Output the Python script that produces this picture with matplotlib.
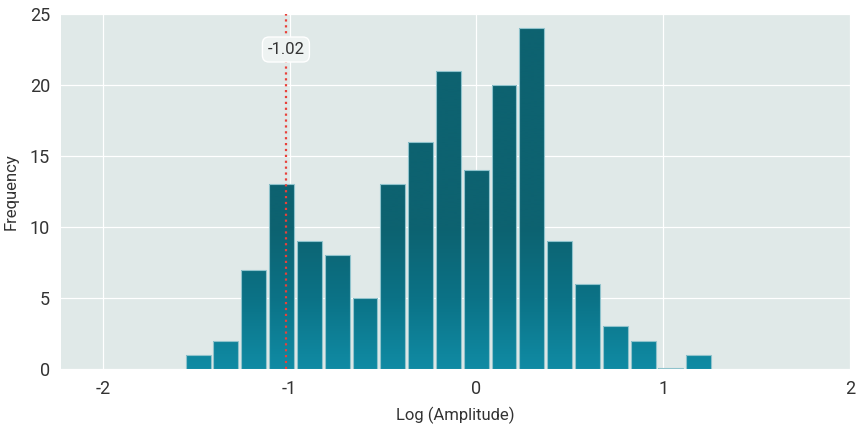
import numpy as np
import matplotlib
matplotlib.use("Agg")
import matplotlib.pyplot as plt
from matplotlib.colors import LinearSegmentedColormap
from matplotlib import font_manager

# Histogram of log amplitudes
bin_start = -1.5645
bin_width = 0.1489
counts = [1, 2, 7, 13, 9, 8, 5, 13, 16, 21, 14, 20, 24, 9, 6, 3, 2, 0.1, 1]
marker_value = -1.02
x_ticks = [-2, -1, 0, 1, 2]
y_ticks = [0, 5, 10, 15, 20, 25]

names = {f.name for f in font_manager.fontManager.ttflist}
family = [f for f in ["Liberation Sans Narrow", "Roboto", "DejaVu Sans"] if f in names]
plt.rcParams["font.family"] = family

fig = plt.figure(figsize=(8.58, 4.26), dpi=100)
ax = fig.add_axes([0.0711, 0.1338, 0.9196, 0.8333])
ax.set_facecolor("#e0e9e8")
for s in ax.spines.values():
    s.set_visible(False)
ax.set_axisbelow(True)
ax.grid(True, color="white", linewidth=0.9)

edges = bin_start + bin_width * np.arange(len(counts) + 1)
centers = (edges[:-1] + edges[1:]) / 2
bars = ax.bar(centers, counts, width=bin_width * 0.895,
              edgecolor="#8fc3cc", linewidth=0.8, facecolor="none", zorder=3)

# vertical gradient shared by all bars: light at the base, dark from ~10 up
cmap = LinearSegmentedColormap.from_list("teal", ["#108ba4", "#0b7286", "#0d6270"])
grad = np.clip(np.linspace(0, 25, 500) / 10.0, 0, 1).reshape(-1, 1)
for b in bars:
    im = ax.imshow(grad, cmap=cmap, vmin=0, vmax=1, origin="lower",
                   extent=[-2.224, 2.0, 0, 25], aspect="auto", zorder=2.5,
                   interpolation="bilinear")
    im.set_clip_path(b)
ax.set_xlim(-2.224, 2.0)
ax.set_ylim(0, 25)

ax.axvline(marker_value, color="#e8413a", linestyle=":",
           linewidth=1.6, zorder=4)
ax.text(marker_value, 22.5, f"{marker_value:.2f}", ha="center", va="center",
        fontsize=12, color="#333333", zorder=5,
        bbox=dict(boxstyle="round,pad=0.3,rounding_size=0.4",
                  facecolor="#eef3f2", edgecolor="#ffffff", linewidth=1))

ax.set_xticks(x_ticks)
ax.set_xticklabels([str(t) for t in x_ticks])
ax.set_yticks(y_ticks)
ax.tick_params(length=0, labelsize=13, colors="#333333", pad=8)
ax.set_xlabel("Log (Amplitude)", fontsize=12, color="#333333", labelpad=6)
ax.set_ylabel("Frequency", fontsize=12, color="#333333", labelpad=8)

fig.savefig("out.png", dpi=100)
